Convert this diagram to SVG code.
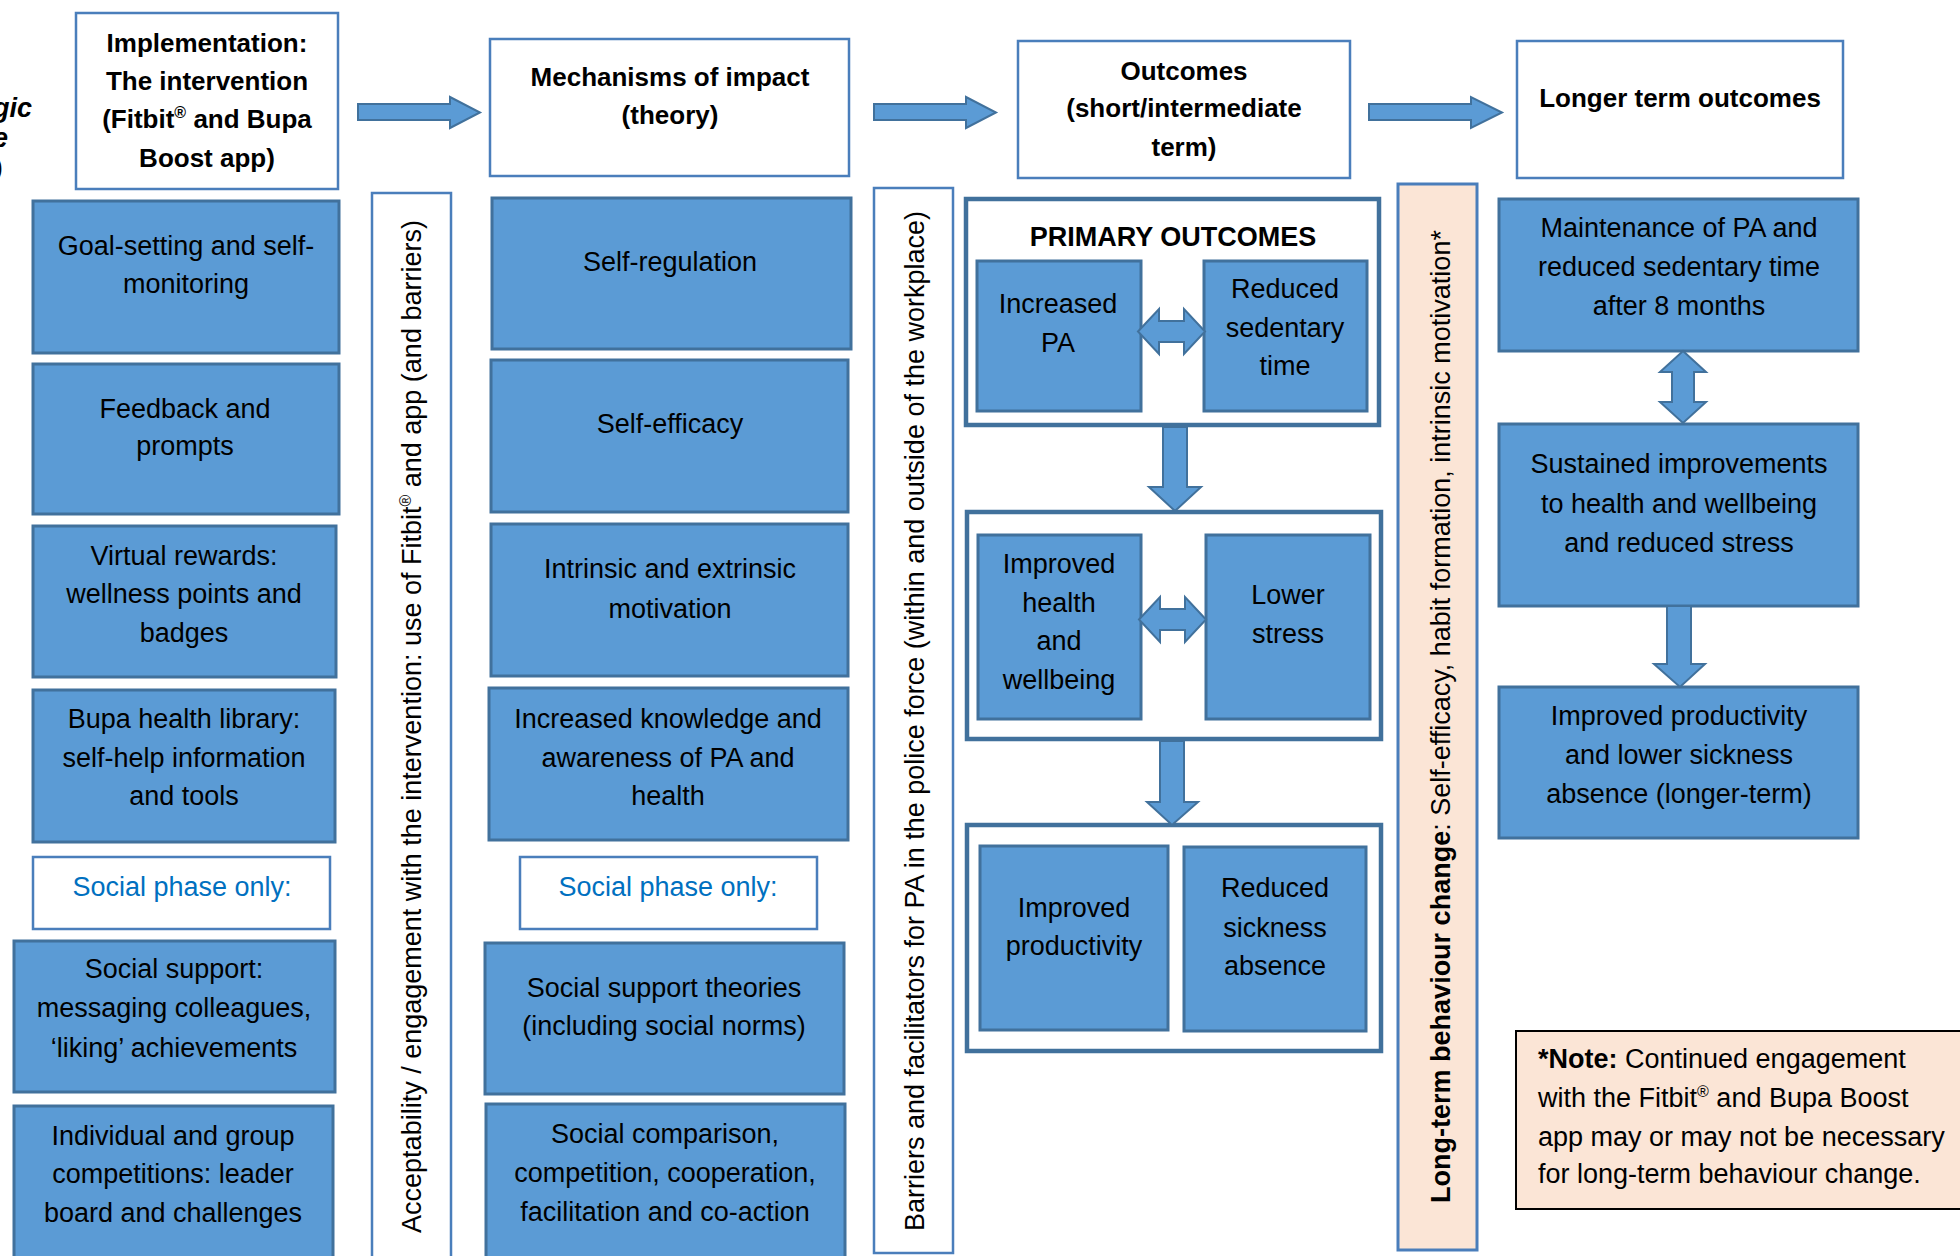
<svg xmlns="http://www.w3.org/2000/svg" width="1960" height="1256" viewBox="0 0 1960 1256">
<style>
.blue{fill:#5B9BD5;stroke:#41719C;stroke-width:3}
.hdr{fill:#FFFFFF;stroke:#4A7EBB;stroke-width:2.5}
.grp{fill:#FFFFFF;stroke:#41719C;stroke-width:4.5}
.vbox{fill:#FFFFFF;stroke:#4A7EBB;stroke-width:2.5}
.orange{fill:#FBE5D6;stroke:#4A7EBB;stroke-width:3}
.note{fill:#FBE5D6;stroke:#000000;stroke-width:2}
.arr{fill:#5B9BD5;stroke:#41719C;stroke-width:2}
text{font-family:"Liberation Sans",Arial,sans-serif;font-size:27px;fill:#000000}
.c{text-anchor:middle}
.b{font-weight:bold;font-size:26px}
.soc{fill:#0070C0}
.sup{font-size:16px}
</style>
<rect width="1960" height="1256" fill="#FFFFFF"/>

<g id="cut-title">
<text x="32" y="117" text-anchor="end" font-weight="bold" font-style="italic" font-size="24">gic</text>
<text x="8" y="147" text-anchor="end" font-weight="bold" font-style="italic" font-size="24">e</text>
<text x="3" y="176" text-anchor="end" font-size="24">)</text>
</g>

<!-- Vertical bands -->
<g id="acceptability">
<rect class="vbox" x="372" y="193" width="79" height="1080"/>
<text class="c" transform="translate(421,726.5) rotate(-90)">Acceptability / engagement with the intervention: use of Fitbit<tspan class="sup" dy="-10">®</tspan><tspan dy="10"> and app (and barriers)</tspan></text>
</g>
<g id="barriers">
<rect class="vbox" x="874" y="188" width="79" height="1065"/>
<text class="c" transform="translate(924,721) rotate(-90)">Barriers and facilitators for PA in the police force (within and outside of the workplace)</text>
</g>
<g id="long-term-behaviour">
<rect class="orange" x="1398" y="184" width="79" height="1066"/>
<text class="c" transform="translate(1450,716.5) rotate(-90)"><tspan font-weight="bold">Long-term behaviour change</tspan>: Self-efficacy, habit formation, intrinsic motivation*</text>
</g>

<!-- Headers -->
<g id="hdr-implementation">
<rect class="hdr" x="76" y="13" width="262" height="176"/>
<text class="c b" x="207" y="52">Implementation:</text>
<text class="c b" x="207" y="90">The intervention</text>
<text class="c b" x="207" y="128">(Fitbit<tspan class="sup" dy="-10">®</tspan><tspan dy="10"> and Bupa</tspan></text>
<text class="c b" x="207" y="167">Boost app)</text>
</g>
<g id="hdr-mechanisms">
<rect class="hdr" x="490" y="39" width="359" height="137"/>
<text class="c b" x="670" y="86">Mechanisms of impact</text>
<text class="c b" x="670" y="124">(theory)</text>
</g>
<g id="hdr-outcomes">
<rect class="hdr" x="1018" y="41" width="332" height="137"/>
<text class="c b" x="1184" y="80">Outcomes</text>
<text class="c b" x="1184" y="117">(short/intermediate</text>
<text class="c b" x="1184" y="156">term)</text>
</g>
<g id="hdr-longer">
<rect class="hdr" x="1517" y="41" width="326" height="137"/>
<text class="c b" x="1680" y="107">Longer term outcomes</text>
</g>

<!-- Implementation column -->
<g id="goal-setting">
<rect class="blue" x="33" y="201" width="306" height="152"/>
<text class="c" x="186" y="255">Goal-setting and self-</text>
<text class="c" x="186" y="293">monitoring</text>
</g>
<g id="feedback">
<rect class="blue" x="33" y="364" width="306" height="150"/>
<text class="c" x="185" y="418">Feedback and</text>
<text class="c" x="185" y="455">prompts</text>
</g>
<g id="virtual-rewards">
<rect class="blue" x="33" y="526" width="303" height="151"/>
<text class="c" x="184" y="565">Virtual rewards:</text>
<text class="c" x="184" y="603">wellness points and</text>
<text class="c" x="184" y="642">badges</text>
</g>
<g id="bupa-library">
<rect class="blue" x="33" y="690" width="302" height="152"/>
<text class="c" x="184" y="728">Bupa health library:</text>
<text class="c" x="184" y="767">self-help information</text>
<text class="c" x="184" y="805">and tools</text>
</g>
<g id="social-phase-1">
<rect class="hdr" x="33" y="857" width="297" height="72"/>
<text class="c soc" x="182" y="896">Social phase only:</text>
</g>
<g id="social-support">
<rect class="blue" x="14" y="941" width="321" height="151"/>
<text class="c" x="174" y="978">Social support:</text>
<text class="c" x="174" y="1017">messaging colleagues,</text>
<text class="c" x="174" y="1057">‘liking’ achievements</text>
</g>
<g id="competitions">
<rect class="blue" x="14" y="1106" width="319" height="170"/>
<text class="c" x="173" y="1145">Individual and group</text>
<text class="c" x="173" y="1183">competitions: leader</text>
<text class="c" x="173" y="1222">board and challenges</text>
</g>

<!-- Mechanisms column -->
<g id="self-regulation">
<rect class="blue" x="492" y="198" width="359" height="151"/>
<text class="c" x="670" y="271">Self-regulation</text>
</g>
<g id="self-efficacy">
<rect class="blue" x="491" y="360" width="357" height="152"/>
<text class="c" x="670" y="433">Self-efficacy</text>
</g>
<g id="motivation">
<rect class="blue" x="491" y="524" width="357" height="152"/>
<text class="c" x="670" y="578">Intrinsic and extrinsic</text>
<text class="c" x="670" y="618">motivation</text>
</g>
<g id="knowledge">
<rect class="blue" x="489" y="688" width="359" height="152"/>
<text class="c" x="668" y="728">Increased knowledge and</text>
<text class="c" x="668" y="767">awareness of PA and</text>
<text class="c" x="668" y="805">health</text>
</g>
<g id="social-phase-2">
<rect class="hdr" x="520" y="857" width="297" height="72"/>
<text class="c soc" x="668" y="896">Social phase only:</text>
</g>
<g id="social-support-theories">
<rect class="blue" x="485" y="943" width="359" height="151"/>
<text class="c" x="664" y="997">Social support theories</text>
<text class="c" x="664" y="1035">(including social norms)</text>
</g>
<g id="social-comparison">
<rect class="blue" x="486" y="1104" width="359" height="172"/>
<text class="c" x="665" y="1143">Social comparison,</text>
<text class="c" x="665" y="1182">competition, cooperation,</text>
<text class="c" x="665" y="1221">facilitation and co-action</text>
</g>

<!-- Outcomes column -->
<g id="primary-outcomes">
<rect class="grp" x="966" y="199" width="413" height="226"/>
<text class="c" x="1173" y="246" font-weight="bold" font-size="24">PRIMARY OUTCOMES</text>
</g>
<g id="increased-pa">
<rect class="blue" x="977" y="261" width="164" height="150"/>
<text class="c" x="1058" y="313">Increased</text>
<text class="c" x="1058" y="352">PA</text>
</g>
<g id="reduced-sedentary">
<rect class="blue" x="1204" y="261" width="163" height="150"/>
<text class="c" x="1285" y="298">Reduced</text>
<text class="c" x="1285" y="337">sedentary</text>
<text class="c" x="1285" y="375">time</text>
</g>
<g id="health-group">
<rect class="grp" x="967" y="512" width="414" height="227"/>
</g>
<g id="improved-health">
<rect class="blue" x="978" y="535" width="163" height="184"/>
<text class="c" x="1059" y="573">Improved</text>
<text class="c" x="1059" y="612">health</text>
<text class="c" x="1059" y="650">and</text>
<text class="c" x="1059" y="689">wellbeing</text>
</g>
<g id="lower-stress">
<rect class="blue" x="1206" y="535" width="164" height="184"/>
<text class="c" x="1288" y="604">Lower</text>
<text class="c" x="1288" y="643">stress</text>
</g>
<g id="productivity-group">
<rect class="grp" x="967" y="825" width="414" height="226"/>
</g>
<g id="improved-productivity">
<rect class="blue" x="980" y="846" width="188" height="184"/>
<text class="c" x="1074" y="917">Improved</text>
<text class="c" x="1074" y="955">productivity</text>
</g>
<g id="reduced-sickness">
<rect class="blue" x="1184" y="847" width="182" height="184"/>
<text class="c" x="1275" y="897">Reduced</text>
<text class="c" x="1275" y="937">sickness</text>
<text class="c" x="1275" y="975">absence</text>
</g>

<!-- Longer term column -->
<g id="maintenance">
<rect class="blue" x="1499" y="199" width="359" height="152"/>
<text class="c" x="1679" y="237">Maintenance of PA and</text>
<text class="c" x="1679" y="276">reduced sedentary time</text>
<text class="c" x="1679" y="315">after 8 months</text>
</g>
<g id="sustained">
<rect class="blue" x="1499" y="424" width="359" height="182"/>
<text class="c" x="1679" y="473">Sustained improvements</text>
<text class="c" x="1679" y="513">to health and wellbeing</text>
<text class="c" x="1679" y="552">and reduced stress</text>
</g>
<g id="longer-productivity">
<rect class="blue" x="1499" y="687" width="359" height="151"/>
<text class="c" x="1679" y="725">Improved productivity</text>
<text class="c" x="1679" y="764">and lower sickness</text>
<text class="c" x="1679" y="803">absence (longer-term)</text>
</g>
<g id="note">
<rect class="note" x="1516" y="1031" width="460" height="178"/>
<text x="1538" y="1068"><tspan font-weight="bold">*Note:</tspan> Continued engagement</text>
<text x="1538" y="1107">with the Fitbit<tspan class="sup" dy="-10">®</tspan><tspan dy="10"> and Bupa Boost</tspan></text>
<text x="1538" y="1146">app may or may not be necessary</text>
<text x="1538" y="1183">for long-term behaviour change.</text>
</g>

<!-- Connectors -->
<g id="connectors">
<polygon class="arr" points="358,104 450,104 450,97 480,112.5 450,128 450,120 358,120"/>
<polygon class="arr" points="874,104 966,104 966,97 996,112.5 966,128 966,120 874,120"/>
<polygon class="arr" points="1369,104 1471,104 1471,97 1502,112.5 1471,128 1471,120 1369,120"/>
<polygon class="arr" points="1138,331.5 1159,309 1159,321 1184,321 1184,309 1205,331.5 1184,354 1184,342 1159,342 1159,354"/>
<polygon class="arr" points="1139,619.5 1160,597 1160,609 1185,609 1185,597 1206,619.5 1185,642 1185,630 1160,630 1160,642"/>
<polygon class="arr" points="1163,427 1187,427 1187,487 1201,487 1175,511 1149,487 1163,487"/>
<polygon class="arr" points="1160,741 1184,741 1184,802 1198,802 1172,825 1147,802 1160,802"/>
<polygon class="arr" points="1683,351 1706,372 1694,372 1694,402 1706,402 1683,423 1660,402 1672,402 1672,372 1660,372"/>
<polygon class="arr" points="1667,606 1691,606 1691,664 1705,664 1680,687 1654,664 1667,664"/>
</g>
</svg>
